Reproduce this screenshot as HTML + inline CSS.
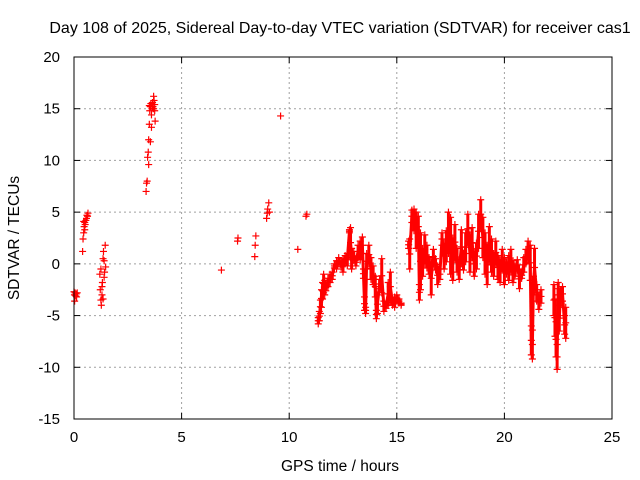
<!DOCTYPE html>
<html><head><meta charset="utf-8"><style>
body{margin:0;background:#fff;}
svg{display:block;font-family:"Liberation Sans",sans-serif;}
</style></head><body>
<svg id="chart" width="640" height="480">
<text x="340" y="33" font-size="16" text-anchor="middle" fill="#000">Day 108 of 2025, Sidereal Day-to-day VTEC variation (SDTVAR) for receiver cas1</text>
<g id="grid"></g>
<g id="axes"></g>
<g id="marks"></g>
<rect x="74" y="57" width="538" height="362" fill="none" stroke="#000" stroke-width="1"/>
<text x="340" y="471" font-size="15.5" text-anchor="middle">GPS time / hours</text>
<text transform="translate(19,238) rotate(-90)" font-size="15.5" text-anchor="middle">SDTVAR / TECUs</text>
</svg>
<script>
const xTicks=[0,5,10,15,20,25];
const yTicks=[-15,-10,-5,0,5,10,15,20];
const times=[0,0.02,0.05,0.08,0.1,0.12,0.15,0.03,
0.4,0.42,0.45,0.47,0.5,0.52,0.55,0.58,0.6,0.63,0.65,0.5,0.45,
1.2,1.22,1.25,1.27,1.3,1.32,1.35,1.37,1.4,1.42,1.45,1.47,1.25,1.3,1.35,1.4,
3.35,3.37,3.4,3.42,3.45,3.47,3.5,3.52,3.55,3.57,3.6,3.62,3.65,3.67,3.7,3.72,3.75,3.77,3.6,3.5,3.47,3.55,3.7,3.75,
6.85,7.6,7.62,8.4,8.42,8.45,8.95,8.98,9.0,9.05,9.08,9.6,10.4,10.78,10.82];
const values=[-2.7,-3.0,-2.8,-3.1,-2.9,-3.2,-2.8,-3.6,
1.2,2.4,3.0,3.6,4.0,3.8,4.2,4.4,4.7,4.6,4.9,3.3,4.1,
-1.0,-2.5,-3.5,-4.0,-3.0,-1.8,0.5,1.2,0.3,-0.8,1.8,-0.3,-0.5,-2.2,-3.4,-1.3,
7.0,7.8,8.0,10.3,10.8,12.0,13.5,14.8,15.2,15.5,14.4,15.0,15.6,15.2,16.2,15.8,14.8,13.8,13.2,15.3,9.6,11.8,15.0,15.4,
-0.6,2.2,2.5,0.7,1.8,2.7,4.4,4.9,5.3,5.9,5.0,14.3,1.4,4.6,4.8];
const denseTimes=[11.35,11.4,11.45,11.5,11.55,11.6,11.65,11.7,11.8,11.9,12.0,12.1,12.2,12.3,12.4,12.5,12.6,12.7,12.8,12.85,12.9,13.0,13.1,13.2,13.3,13.4,13.45,13.5,13.55,13.6,13.7,13.8,13.9,14.0,14.05,14.1,14.2,14.3,14.4,14.5,14.6,14.7,14.8,14.9,15.0,15.1,15.2,15.55,15.6,15.7,15.8,15.9,16.0,16.05,16.1,16.2,16.3,16.4,16.5,16.6,16.7,16.8,16.9,17.0,17.1,17.2,17.3,17.4,17.5,17.6,17.7,17.8,17.9,18.0,18.1,18.2,18.3,18.4,18.5,18.6,18.7,18.8,18.9,19.0,19.1,19.2,19.3,19.4,19.5,19.6,19.7,19.8,19.9,20.0,20.1,20.2,20.3,20.4,20.5,20.6,20.7,20.8,20.9,21.0,21.1,21.2,21.25,21.3,21.35,21.4,21.5,21.6,21.7,22.3,22.35,22.4,22.45,22.5,22.55,22.6,22.7,22.8,22.85];
const denseHigh=[-5.2,-4.6,-3.5,-2.5,-1.8,-1.0,-1.6,-2.6,-2.2,-1.8,-0.8,-0.4,0.3,0.0,0.2,0.5,0.8,1.0,3.3,3.5,1.5,1.2,0.5,1.8,2.2,2.6,-0.5,-3.2,-4.8,1.0,1.8,0.6,-0.2,-1.2,-4.5,-3.0,-1.5,0.5,-3.6,-3.8,-1.8,-0.8,-3.5,-3.2,-3.0,-3.4,-3.8,2.2,2.4,5.2,5.3,5.0,4.6,-2.0,3.0,1.5,2.8,1.8,0.6,0.2,1.4,0.5,-0.2,-0.5,3.0,2.0,3.2,5.0,4.5,2.5,3.8,1.5,0.4,3.3,1.0,3.0,4.8,2.8,3.5,1.2,2.0,4.8,6.2,4.5,3.0,1.8,3.6,2.4,1.0,2.2,0.8,0.4,1.4,0.6,0.2,0.8,1.4,0.3,-0.2,0.4,-0.5,-0.8,0.6,1.4,2.2,1.8,-6.0,-6.4,-1.2,1.5,-2.0,-3.0,-2.5,-2.0,-3.4,-5.6,-7.8,-1.8,-4.0,-2.5,-2.2,-5.0,-4.2];
const denseLow=[-5.8,-5.5,-4.8,-4.2,-3.4,-2.8,-3.0,-2.0,-1.4,-1.0,-1.5,0.0,-0.5,0.6,-0.3,-0.8,0.0,-0.2,3.0,0.6,-0.5,0.3,-0.2,0.6,0.4,1.0,-1.4,-4.5,-4.2,-0.5,0.0,-1.5,-2.0,-3.2,-5.3,-4.8,-2.4,-2.8,-4.6,-4.3,-4.0,-3.6,-4.0,-4.2,-3.6,-3.8,-4.0,1.5,-0.5,4.0,3.2,1.5,2.6,-3.5,-2.5,-1.2,0.0,-0.4,-1.0,-3.0,0.0,-0.6,-2.0,-1.5,1.8,-0.5,0.2,1.0,-1.0,-1.6,0.4,-0.8,-1.5,0.0,-0.6,0.2,2.0,-0.8,0.6,-1.2,-0.5,1.5,3.4,0.6,-1.0,-2.0,0.2,-0.8,-1.2,0.0,-1.5,-1.8,-0.6,-2.0,-1.0,-1.6,-0.8,-1.8,-1.2,-0.6,-2.4,-1.4,-0.8,0.0,0.4,-1.6,-8.8,-9.2,-3.0,-2.2,-3.6,-4.4,-3.8,-5.0,-7.0,-9.0,-10.2,-3.0,-6.5,-4.2,-3.6,-6.8,-7.2];

const L=74,R=612,T=57,B=419,x0=0,x1=25,y0=-15,y1=20;
function xs(t){return L+(t-x0)/(x1-x0)*(R-L);}
function ys(v){return B-(v-y0)/(y1-y0)*(B-T);}
const NS='http://www.w3.org/2000/svg';
const grid=document.getElementById('grid'),axes=document.getElementById('axes'),marks=document.getElementById('marks');
function mk(tag,attrs,parent){const e=document.createElementNS(NS,tag);for(const k in attrs)e.setAttribute(k,attrs[k]);parent.appendChild(e);return e;}
xTicks.forEach(t=>{const x=xs(t);
 if(t>x0&&t<x1){const g=mk('line',{x1:x,x2:x,y1:T,y2:B,stroke:'#a0a0a0','stroke-dasharray':'2,3'},grid);
 
 }
 mk('line',{x1:x,x2:x,y1:B,y2:B-6,stroke:'#000'},axes);mk('line',{x1:x,x2:x,y1:T,y2:T+6,stroke:'#000'},axes);
 const tx=mk('text',{x:x,y:B+23,'font-size':15,'text-anchor':'middle'},axes);tx.textContent=t;
 
 });
yTicks.forEach(v=>{const y=ys(v);
 if(v>y0&&v<y1){const g=mk('line',{x1:L,x2:R,y1:y,y2:y,stroke:'#a0a0a0','stroke-dasharray':'2,3'},grid);
 
 }
 mk('line',{x1:L,x2:L+6,y1:y,y2:y,stroke:'#000'},axes);mk('line',{x1:R,x2:R-6,y1:y,y2:y,stroke:'#000'},axes);
 const tx=mk('text',{x:L-14,y:y+5,'font-size':15,'text-anchor':'end'},axes);tx.textContent=v;
 
 });
function plus(t,v){const x=xs(t),y=ys(v);
 const p=mk('path',{d:`M${x-3.5},${y}H${x+3.5}M${x},${y-3.5}V${y+3.5}`,stroke:'#ff0000','stroke-width':1.2,fill:'none'},marks);
 
 }
times.forEach((t,i)=>plus(t,values[i]));
denseTimes.forEach((t,i)=>{const hi=denseHigh[i],lo=denseLow[i];
 const a=Math.min(hi,lo),b=Math.max(hi,lo);
 const ln=mk('line',{x1:xs(t),x2:xs(t),y1:ys(a),y2:ys(b),stroke:'#ff0000','stroke-width':3},marks);
 
 
 plus(t,hi);plus(t,lo);plus(t,(hi+lo)/2);
 if(i<denseTimes.length-1&&denseTimes[i+1]-t<0.15){
  const c=mk('line',{x1:xs(t),x2:xs(denseTimes[i+1]),y1:ys((hi+lo)/2),y2:ys((denseHigh[i+1]+denseLow[i+1])/2),stroke:'#ff0000','stroke-width':3},marks);
  
  }
});
</script>
</body></html>
